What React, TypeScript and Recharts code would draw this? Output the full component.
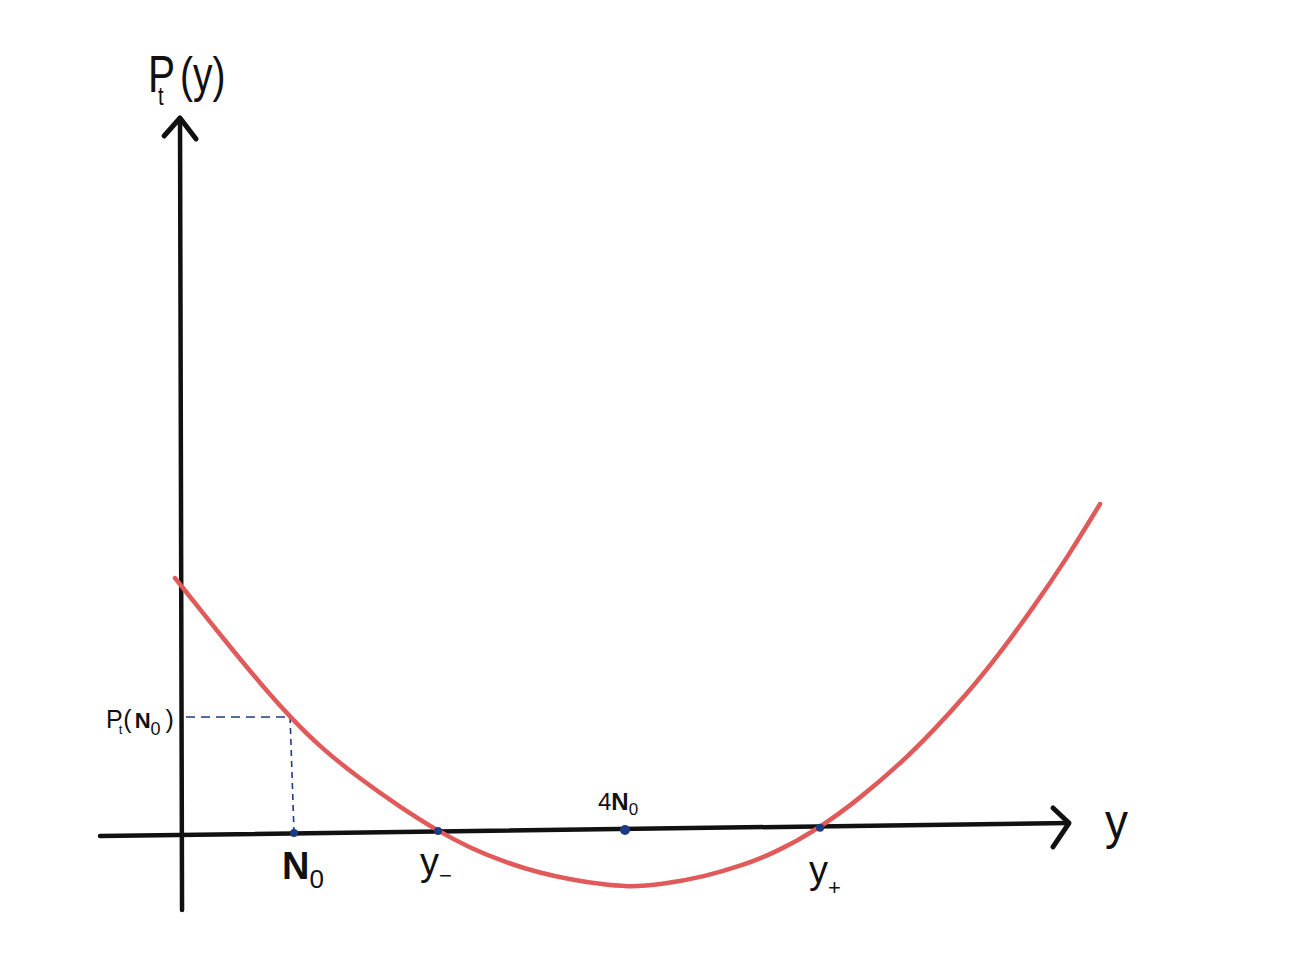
import React from 'react';
import { ComposedChart, Line, XAxis, YAxis, ReferenceDot } from 'recharts';

// ---- data (units: N0 = 1 on the horizontal axis of the diagram) ----
const curveX = [-0.053, 0.434, 0.699, 0.965, 1.23, 1.584, 1.938, 2.274, 2.558, 2.885, 3.177, 3.469, 3.708, 3.947, 4.239, 4.655, 4.947, 5.239, 5.655, 6.009, 6.363, 6.655, 6.956, 7.248, 7.54, 7.841, 8.133];
const curveY = [2.274, 1.664, 1.345, 1.044, 0.779, 0.496, 0.248, 0.035, -0.115, -0.248, -0.336, -0.398, -0.434, -0.46, -0.442, -0.363, -0.274, -0.168, 0.062, 0.327, 0.628, 0.92, 1.248, 1.611, 2.009, 2.451, 2.929];

const xAxisLineX = [-0.717, 7.858];
const xAxisLineY = [-0.009, 0.106];
const xArrowX = [7.717, 7.858, 7.717];
const xArrowY = [0.239, 0.106, -0.106];

const yAxisLineX = [0.009, -0.009];
const yAxisLineY = [-0.664, 6.345];
const yArrowX = [-0.15, -0.009, 0.133];
const yArrowY = [6.186, 6.345, 6.159];

const hDashX = [0.044, 0.965];
const hDashY = [1.044, 1.044];
const vDashX = [0.965, 1.0];
const vDashY = [1.044, 0.018];

const markNames = ['N0', 'yMinus', 'fourN0', 'yPlus'];
const markX = [1.0, 2.274, 3.929, 5.655];
const markY = [0.018, 0.035, 0.044, 0.065];

const zip = (xs: number[], ys: number[]) => xs.map((x, i) => ({ x, y: ys[i] }));

const curveData = zip(curveX, curveY);
const xAxisData = zip(xAxisLineX, xAxisLineY);
const xArrowData = zip(xArrowX, xArrowY);
const yAxisData = zip(yAxisLineX, yAxisLineY);
const yArrowData = zip(yArrowX, yArrowY);
const hDashData = zip(hDashX, hDashY);
const vDashData = zip(vDashX, vDashY);

// ---- layout / style ----
const W = 1290;
const H = 978;
const X_DOMAIN: [number, number] = [-1.602, 9.814];
const Y_DOMAIN: [number, number] = [-1.2655, 7.3894];
const FONT = '"Liberation Sans", Arial, Helvetica, sans-serif';
const INK = '#111111';
const CURVE = '#e05a5a';
const NAVY = '#1d3a85';

const center = (props: any) => {
  const vb = props.viewBox || {};
  return { cx: (vb.x ?? 0) + (vb.width ?? 0) / 2, cy: (vb.y ?? 0) + (vb.height ?? 0) / 2 };
};

const TitleLabel = (props: any) => {
  const { cx, cy } = center(props);
  return (
    <text transform={`translate(${cx - 32},${cy - 26}) scale(0.78,1)`} fontFamily={FONT} fill={INK}>
      <tspan fontSize={52}>P</tspan>
      <tspan fontSize={26} dx={-21.9} dy={13}>t</tspan>
      <tspan fontSize={50} dx={21} dy={-13}>(y)</tspan>
    </text>
  );
};

const XTitleLabel = (props: any) => {
  const { cx, cy } = center(props);
  return (
    <text transform={`translate(${cx + 36},${cy + 16}) scale(0.92,1)`} fontFamily={FONT} fontSize={50} fill={INK}>
      y
    </text>
  );
};

const PN0Label = (props: any) => {
  const { cx, cy } = center(props);
  // anchor: left end of horizontal dashed line
  return (
    <text x={cx - 80} y={cy + 11} fontFamily={FONT} fill={INK}>
      <tspan fontSize={25}>P</tspan>
      <tspan fontSize={13} dx={-4} dy={6}>t</tspan>
      <tspan fontSize={25} dx={1} dy={-6}>(</tspan>
      <tspan fontSize={22} fontWeight="bold" dx={3}>N</tspan>
      <tspan fontSize={18} dy={7}>0</tspan>
      <tspan fontSize={25} dx={5} dy={-7}>)</tspan>
    </text>
  );
};

const N0Label = (props: any) => {
  const { cx, cy } = center(props);
  return (
    <text x={cx - 12} y={cy + 46} fontFamily={FONT} fill={INK}>
      <tspan fontSize={38} fontWeight="bold">N</tspan>
      <tspan fontSize={26} dy={9}>0</tspan>
    </text>
  );
};

const YMinusLabel = (props: any) => {
  const { cx, cy } = center(props);
  return (
    <text x={cx - 18} y={cy + 44} fontFamily={FONT} fill={INK}>
      <tspan fontSize={38}>y</tspan>
      <tspan fontSize={22} dy={8}>{'\u2212'}</tspan>
    </text>
  );
};

const YPlusLabel = (props: any) => {
  const { cx, cy } = center(props);
  return (
    <text x={cx - 11} y={cy + 55} fontFamily={FONT} fill={INK}>
      <tspan fontSize={38}>y</tspan>
      <tspan fontSize={22} dy={12}>+</tspan>
    </text>
  );
};

const FourN0Label = (props: any) => {
  const { cx, cy } = center(props);
  return (
    <text x={cx - 27} y={cy - 20} fontFamily={FONT} fill={INK}>
      <tspan fontSize={24}>4</tspan>
      <tspan fontSize={24} fontWeight="bold">N</tspan>
      <tspan fontSize={17} dy={5}>0</tspan>
    </text>
  );
};

const markLabels: Record<string, any> = {
  N0: N0Label,
  yMinus: YMinusLabel,
  fourN0: FourN0Label,
  yPlus: YPlusLabel,
};
const markRadius: Record<string, number> = { N0: 4, yMinus: 4, fourN0: 5, yPlus: 4 };

const lineCommon = {
  dataKey: 'y',
  dot: false,
  activeDot: false,
  isAnimationActive: false,
  type: 'linear' as const,
  legendType: 'none' as const,
};

export default function App() {
  return (
    <div style={{ position: 'absolute', left: 0, top: 0, width: W, height: H, background: '#ffffff' }}>
      <ComposedChart width={W} height={H} margin={{ top: 0, right: 0, bottom: 0, left: 0 }}>
        <XAxis type="number" dataKey="x" domain={X_DOMAIN} allowDataOverflow hide />
        <YAxis type="number" dataKey="y" domain={Y_DOMAIN} allowDataOverflow hide />

        {/* axes */}
        <Line {...lineCommon} data={xAxisData} stroke={INK} strokeWidth={4.5} strokeLinecap="round" />
        <Line {...lineCommon} data={xArrowData} stroke={INK} strokeWidth={5} strokeLinecap="round" strokeLinejoin="round" />
        <Line {...lineCommon} data={yAxisData} stroke={INK} strokeWidth={4.5} strokeLinecap="round" />
        <Line {...lineCommon} data={yArrowData} stroke={INK} strokeWidth={5} strokeLinecap="round" strokeLinejoin="round" />

        {/* dashed guides */}
        <Line {...lineCommon} data={hDashData} stroke={NAVY} strokeWidth={1.6} strokeDasharray="9 6" />
        <Line {...lineCommon} data={vDashData} stroke={NAVY} strokeWidth={1.6} strokeDasharray="6 5" />

        {/* curve */}
        <Line {...lineCommon} type="basis" data={curveData} stroke={CURVE} strokeWidth={4.5} strokeLinecap="round" />

        {/* marked points */}
        {markNames.map((name, i) => (
          <ReferenceDot
            key={name}
            x={markX[i]}
            y={markY[i]}
            r={markRadius[name]}
            fill={NAVY}
            stroke="none"
            ifOverflow="visible"
            label={{ content: markLabels[name] }}
          />
        ))}

        {/* text anchors */}
        <ReferenceDot x={yArrowX[1]} y={yArrowY[1]} r={1} fill="none" stroke="none" ifOverflow="visible" label={{ content: TitleLabel }} />
        <ReferenceDot x={xArrowX[1]} y={xArrowY[1]} r={1} fill="none" stroke="none" ifOverflow="visible" label={{ content: XTitleLabel }} />
        <ReferenceDot x={hDashX[0]} y={hDashY[0]} r={1} fill="none" stroke="none" ifOverflow="visible" label={{ content: PN0Label }} />
      </ComposedChart>
    </div>
  );
}
